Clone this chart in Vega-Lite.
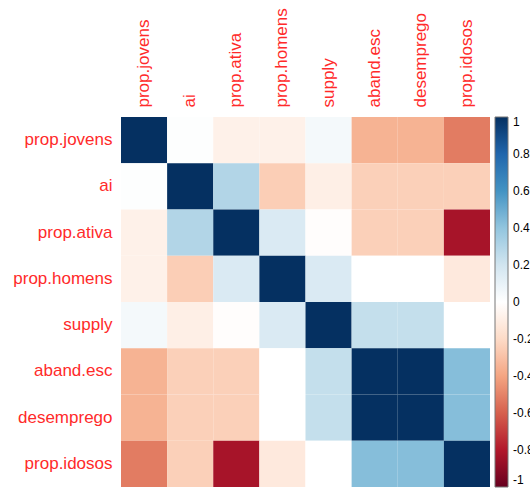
{
  "$schema": "https://vega.github.io/schema/vega-lite/v6.json",
  "autosize": "none",
  "width": 369,
  "height": 370,
  "padding": {"left": 121, "top": 117, "right": 40, "bottom": 3},
  "background": "white",
  "config": {
    "view": {"stroke": null},
    "font": "Liberation Sans"
  },
  "data": {
    "values": [
      {"row": "prop.jovens", "col": "prop.jovens", "r": 1},
      {"row": "prop.jovens", "col": "ai", "r": 0.01},
      {"row": "prop.jovens", "col": "prop.ativa", "r": -0.08},
      {"row": "prop.jovens", "col": "prop.homens", "r": -0.08},
      {"row": "prop.jovens", "col": "supply", "r": 0.05},
      {"row": "prop.jovens", "col": "aband.esc", "r": -0.35},
      {"row": "prop.jovens", "col": "desemprego", "r": -0.35},
      {"row": "prop.jovens", "col": "prop.idosos", "r": -0.52},

      {"row": "ai", "col": "prop.jovens", "r": 0.01},
      {"row": "ai", "col": "ai", "r": 1},
      {"row": "ai", "col": "prop.ativa", "r": 0.3},
      {"row": "ai", "col": "prop.homens", "r": -0.25},
      {"row": "ai", "col": "supply", "r": -0.09},
      {"row": "ai", "col": "aband.esc", "r": -0.24},
      {"row": "ai", "col": "desemprego", "r": -0.24},
      {"row": "ai", "col": "prop.idosos", "r": -0.24},

      {"row": "prop.ativa", "col": "prop.jovens", "r": -0.08},
      {"row": "prop.ativa", "col": "ai", "r": 0.3},
      {"row": "prop.ativa", "col": "prop.ativa", "r": 1},
      {"row": "prop.ativa", "col": "prop.homens", "r": 0.16},
      {"row": "prop.ativa", "col": "supply", "r": -0.01},
      {"row": "prop.ativa", "col": "aband.esc", "r": -0.24},
      {"row": "prop.ativa", "col": "desemprego", "r": -0.24},
      {"row": "prop.ativa", "col": "prop.idosos", "r": -0.83},

      {"row": "prop.homens", "col": "prop.jovens", "r": -0.08},
      {"row": "prop.homens", "col": "ai", "r": -0.25},
      {"row": "prop.homens", "col": "prop.ativa", "r": 0.16},
      {"row": "prop.homens", "col": "prop.homens", "r": 1},
      {"row": "prop.homens", "col": "supply", "r": 0.16},
      {"row": "prop.homens", "col": "aband.esc", "r": 0.0},
      {"row": "prop.homens", "col": "desemprego", "r": 0.0},
      {"row": "prop.homens", "col": "prop.idosos", "r": -0.12},

      {"row": "supply", "col": "prop.jovens", "r": 0.05},
      {"row": "supply", "col": "ai", "r": -0.09},
      {"row": "supply", "col": "prop.ativa", "r": -0.01},
      {"row": "supply", "col": "prop.homens", "r": 0.16},
      {"row": "supply", "col": "supply", "r": 1},
      {"row": "supply", "col": "aband.esc", "r": 0.24},
      {"row": "supply", "col": "desemprego", "r": 0.24},
      {"row": "supply", "col": "prop.idosos", "r": 0.0},

      {"row": "aband.esc", "col": "prop.jovens", "r": -0.35},
      {"row": "aband.esc", "col": "ai", "r": -0.24},
      {"row": "aband.esc", "col": "prop.ativa", "r": -0.24},
      {"row": "aband.esc", "col": "prop.homens", "r": 0.0},
      {"row": "aband.esc", "col": "supply", "r": 0.24},
      {"row": "aband.esc", "col": "aband.esc", "r": 1},
      {"row": "aband.esc", "col": "desemprego", "r": 1},
      {"row": "aband.esc", "col": "prop.idosos", "r": 0.43},

      {"row": "desemprego", "col": "prop.jovens", "r": -0.35},
      {"row": "desemprego", "col": "ai", "r": -0.24},
      {"row": "desemprego", "col": "prop.ativa", "r": -0.24},
      {"row": "desemprego", "col": "prop.homens", "r": 0.0},
      {"row": "desemprego", "col": "supply", "r": 0.24},
      {"row": "desemprego", "col": "aband.esc", "r": 1},
      {"row": "desemprego", "col": "desemprego", "r": 1},
      {"row": "desemprego", "col": "prop.idosos", "r": 0.43},

      {"row": "prop.idosos", "col": "prop.jovens", "r": -0.52},
      {"row": "prop.idosos", "col": "ai", "r": -0.24},
      {"row": "prop.idosos", "col": "prop.ativa", "r": -0.83},
      {"row": "prop.idosos", "col": "prop.homens", "r": -0.12},
      {"row": "prop.idosos", "col": "supply", "r": 0.0},
      {"row": "prop.idosos", "col": "aband.esc", "r": 0.43},
      {"row": "prop.idosos", "col": "desemprego", "r": 0.43},
      {"row": "prop.idosos", "col": "prop.idosos", "r": 1}
    ]
  },
  "mark": {"type": "rect"},
  "encoding": {
    "x": {
      "field": "col",
      "type": "nominal",
      "sort": ["prop.jovens", "ai", "prop.ativa", "prop.homens", "supply", "aband.esc", "desemprego", "prop.idosos"],
      "scale": {"paddingInner": 0, "paddingOuter": 0},
      "axis": {
        "orient": "top",
        "title": null,
        "domain": false,
        "ticks": false,
        "labelAngle": 270,
        "labelAlign": "left",
        "labelBaseline": "middle",
        "labelPadding": 10,
        "labelFontSize": 17,
        "labelColor": "#FF2A2A",
        "labelFont": "Liberation Sans"
      }
    },
    "y": {
      "field": "row",
      "type": "nominal",
      "sort": ["prop.jovens", "ai", "prop.ativa", "prop.homens", "supply", "aband.esc", "desemprego", "prop.idosos"],
      "scale": {"paddingInner": 0, "paddingOuter": 0},
      "axis": {
        "title": null,
        "domain": false,
        "ticks": false,
        "labelPadding": 9,
        "labelFontSize": 17,
        "labelColor": "#FF2A2A",
        "labelFont": "Liberation Sans"
      }
    },
    "color": {
      "field": "r",
      "type": "quantitative",
      "scale": {
        "domain": [-1, -0.8, -0.6, -0.4, -0.2, 0, 0.2, 0.4, 0.6, 0.8, 1],
        "range": ["#67001F", "#B2182B", "#D6604D", "#F4A582", "#FDDBC7", "#FFFFFF", "#D1E5F0", "#92C5DE", "#4393C3", "#2166AC", "#053061"],
        "interpolate": "rgb"
      },
      "legend": {
        "title": null,
        "orient": "none",
        "legendX": 374,
        "legendY": 0,
        "direction": "vertical",
        "gradientLength": 370,
        "gradientThickness": 13,
        "gradientStrokeColor": "#777",
        "gradientStrokeWidth": 1,
        "values": [-1, -0.8, -0.6, -0.4, -0.2, 0, 0.2, 0.4, 0.6, 0.8, 1],
        "labelExpr": "'' + datum.value",
        "labelOverlap": false,
        "labelFontSize": 12,
        "labelColor": "black",
        "labelOffset": 5,
        "labelBaseline": "middle",
        "labelFont": "Liberation Sans"
      }
    }
  }
}
